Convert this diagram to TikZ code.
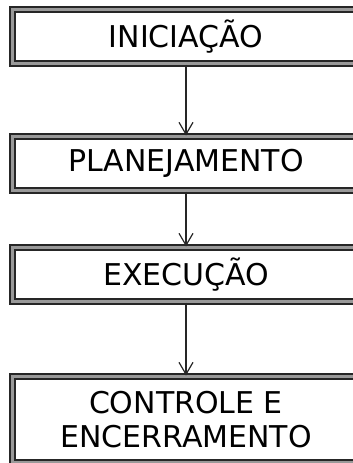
\documentclass[tikz,border=0pt]{standalone}
\usepackage{fontspec}
\setmainfont{DejaVu Sans}
\usetikzlibrary{arrows.meta}
\usetikzlibrary{positioning}
\colorlet{phaseline}{black!85}
\colorlet{phasegap}{black!40}
\tikzset{
  phasebox/.style={draw=phaseline,double=phasegap,double distance=3pt,line width=2pt,
    fill=white,minimum width=347pt,minimum height=54pt,inner sep=0pt,align=center,
    font=\fontsize{30}{34}\selectfont},
  phasearrow/.style={draw=phaseline,line width=1.2pt,-{Straight Barb[length=12pt,width=14pt]}}
}

\begin{document}
\begin{tikzpicture}
\useasboundingbox (0,0) rectangle (353pt,-463pt);
\clip (0,0) rectangle (353pt,-463pt);
% phases
\node[phasebox] (iniciacao) at (186pt,-36.5pt) {INICIAÇÃO};
\node[phasebox,below=71pt of iniciacao] (planejamento) {PLANEJAMENTO};
\node[phasebox,below=55pt of planejamento] (execucao) {EXECUÇÃO};
\node[phasebox,minimum height=86pt,below=73pt of execucao] (controle) {CONTROLE E\\ENCERRAMENTO};
% flow
\draw[phasearrow] (iniciacao) -- (planejamento);
\draw[phasearrow] (planejamento) -- (execucao);
\draw[phasearrow] (execucao) -- (controle);
\end{tikzpicture}
\end{document}
